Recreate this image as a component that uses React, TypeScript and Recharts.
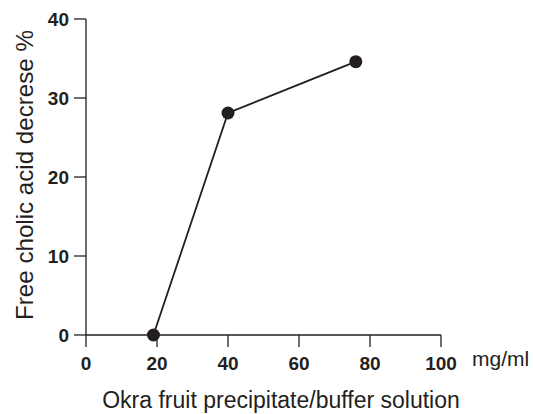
import { LineChart, Line, XAxis, YAxis, Label } from "recharts";

const concentration = [19, 40, 76];
const decrease = [0, 28.1, 34.6];
const xTicks = [0, 20, 40, 60, 80, 100];
const yTicks = [0, 10, 20, 30, 40];

const data = concentration.map((c, i) => ({ c, v: decrease[i] }));

const ink = "#231f20";
const font = "'Liberation Sans', Arial, Helvetica, sans-serif";

export default function App() {
  return (
    <div style={{ position: "absolute", left: 0, top: 0, background: "#fff" }}>
      <LineChart
        width={533}
        height={414}
        data={data}
        margin={{ top: 19, right: 92, bottom: 0, left: 0 }}
      >
        <XAxis
          dataKey="c"
          type="number"
          domain={[0, 100]}
          ticks={xTicks}
          height={79}
          tickSize={12}
          tickMargin={10}
          axisLine={{ stroke: ink, strokeWidth: 1.3 }}
          tickLine={{ stroke: ink, strokeWidth: 1.3 }}
          tick={{ fill: ink, fontSize: 19, fontWeight: 700, fontFamily: font }}
        >
          <Label
            content={({ viewBox }: any) => (
              <text
                x={viewBox.x + viewBox.width + 31}
                y={viewBox.y + 31}
                fill={ink}
                fontSize={21}
                fontFamily={font}
              >
                mg/ml
              </text>
            )}
          />
          <Label
            content={({ viewBox }: any) => (
              <text
                x={281}
                y={viewBox.y + 73}
                fill={ink}
                fontSize={23}
                fontFamily={font}
                textAnchor="middle"
              >
                Okra fruit precipitate/buffer solution
              </text>
            )}
          />
        </XAxis>
        <YAxis
          type="number"
          domain={[0, 40]}
          ticks={yTicks}
          width={86}
          tickSize={12}
          tickMargin={5}
          axisLine={{ stroke: ink, strokeWidth: 1.3 }}
          tickLine={{ stroke: ink, strokeWidth: 1.3 }}
          tick={{ fill: ink, fontSize: 19, fontWeight: 700, fontFamily: font }}
        >
          <Label
            content={() => (
              <text
                x={33}
                y={175}
                fill={ink}
                fontSize={24}
                fontFamily={font}
                textAnchor="middle"
                textLength={290}
                lengthAdjust="spacingAndGlyphs"
                transform="rotate(-90, 33, 175)"
              >
                Free cholic acid decrese %
              </text>
            )}
          />
        </YAxis>
        <Line
          dataKey="v"
          stroke={ink}
          strokeWidth={1.8}
          dot={{ r: 6.5, fill: ink, stroke: ink, strokeWidth: 0 }}
          isAnimationActive={false}
        />
      </LineChart>
    </div>
  );
}
